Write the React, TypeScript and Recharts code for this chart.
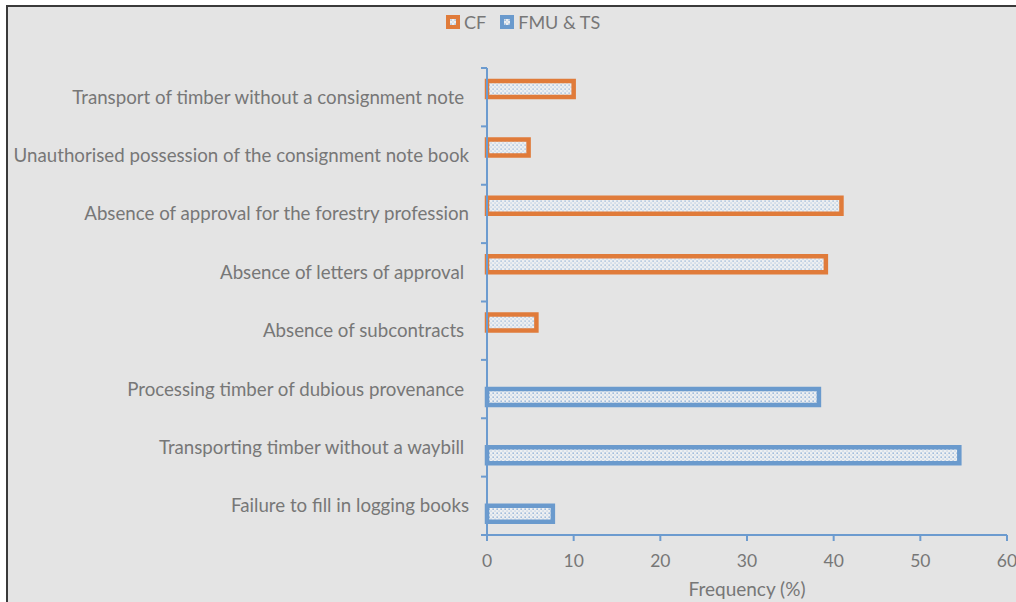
import React from 'react';
import { BarChart, Bar, XAxis, YAxis, Label } from 'recharts';

// Categories, top to bottom (some labels keep their trailing space)
const categories = [
  'Transport of timber without a consignment note ',
  'Unauthorised possession of the consignment note book',
  'Absence of approval for the forestry profession',
  'Absence of letters of approval ',
  'Absence of subcontracts ',
  'Processing timber of dubious provenance ',
  'Transporting timber without a waybill ',
  'Failure to fill in logging books',
];

// Frequency (%) per offence
const cfValues = [10.0, 4.8, 40.9, 39.1, 5.7, 0, 0, 0];
const fmuValues = [0, 0, 0, 0, 0, 38.3, 54.5, 7.6];

const xTicks = [0, 10, 20, 30, 40, 50, 60];

const ORANGE = '#E07B3A';
const BLUE = '#6A9ACD';
const AXIS = '#6C9BCF';
const TEXT = '#777777';
const BG = '#E4E4E4';
const FONT = 'Lato, "Noto Sans", sans-serif';

const data = categories.map((name, i) => ({ name, cf: cfValues[i], fmu: fmuValues[i] }));

// chart geometry
const CHART_W = 1040;
const CHART_H = 640;
const MARGIN = { top: 68, right: 33, bottom: 40, left: 7 };
const Y_AXIS_W = 480;
const X_AXIS_H = 65;
const PLOT_H = CHART_H - MARGIN.top - MARGIN.bottom - X_AXIS_H;
const BAND = PLOT_H / categories.length;

// category label + tick marks between categories
const CategoryTick = (props: any) => {
  const { y, payload, index } = props;
  const axisX = MARGIN.left + Y_AXIS_W;
  const top = y - BAND / 2;
  return (
    <g>
      <line x1={axisX - 6} x2={axisX} y1={top} y2={top} stroke={AXIS} strokeWidth={2} />
      {index === categories.length - 1 && (
        <line x1={axisX - 6} x2={axisX} y1={top + BAND} y2={top + BAND} stroke={AXIS} strokeWidth={2} />
      )}
      <text
        x={axisX - 18}
        y={y}
        dy="0.35em"
        textAnchor="end"
        xmlSpace="preserve"
        style={{ whiteSpace: 'pre' }}
        fill={TEXT}
        fontSize={18.7}
        fontFamily={FONT}
      >
        {payload.value}
      </text>
    </g>
  );
};

const LegendKey = ({ color, pattern }: { color: string; pattern: string }) => (
  <svg width={14} height={14} style={{ display: 'block' }}>
    <rect x={2} y={2} width={10} height={10} fill={`url(#${pattern})`} stroke={color} strokeWidth={4} />
  </svg>
);

export default function App() {
  return (
    <div
      style={{
        position: 'fixed',
        left: 0,
        top: 0,
        width: 1016,
        height: 602,
        overflow: 'hidden',
        background: '#ffffff',
        fontFamily: FONT,
      }}
    >
      <svg width={0} height={0} style={{ position: 'absolute' }}>
        <defs>
          <pattern id="dotsCf" width={4} height={4} patternUnits="userSpaceOnUse">
            <rect width={4} height={4} fill="#EDEFF1" />
            <rect x={0.5} y={0.5} width={1.2} height={1.2} fill="#86AAD4" />
            <rect x={2.5} y={2.5} width={1.1} height={1.1} fill="#A9C2DF" />
          </pattern>
          <pattern id="dotsFmu" width={4} height={4} patternUnits="userSpaceOnUse">
            <rect width={4} height={4} fill="#EDEFF1" />
            <rect x={0.5} y={0.5} width={1.3} height={1.3} fill="#79A2D2" />
            <rect x={2.5} y={2.5} width={1.1} height={1.1} fill="#A9C2DF" />
          </pattern>
        </defs>
      </svg>

      <div
        style={{
          position: 'absolute',
          left: 6,
          top: 5,
          width: 1100,
          height: 700,
          background: BG,
          borderTop: '2px solid #3a3a3a',
          borderLeft: '2px solid #3a3a3a',
        }}
      />

      <div
        style={{
          position: 'absolute',
          left: 446,
          top: 12,
          display: 'flex',
          alignItems: 'center',
          fontSize: 18,
          color: TEXT,
          lineHeight: '20px',
        }}
      >
        <LegendKey color={ORANGE} pattern="dotsCf" />
        <span style={{ marginLeft: 4, marginRight: 14 }}>CF</span>
        <LegendKey color={BLUE} pattern="dotsFmu" />
        <span style={{ marginLeft: 4 }}>FMU &amp; TS</span>
      </div>

      <div style={{ position: 'absolute', left: 0, top: 0 }}>
        <BarChart width={CHART_W} height={CHART_H} data={data} layout="vertical" margin={MARGIN} barGap={0}>
          <XAxis
            type="number"
            domain={[0, 60]}
            ticks={xTicks}
            interval={0}
            height={X_AXIS_H}
            axisLine={{ stroke: AXIS, strokeWidth: 2 }}
            tickLine={{ stroke: AXIS, strokeWidth: 2 }}
            tickSize={6}
            tickMargin={14}
            tick={{ fill: TEXT, fontSize: 17.5, fontFamily: FONT }}
          >
            <Label
              value="Frequency (%)"
              position="insideBottom"
              offset={4}
              fill={TEXT}
              fontSize={19}
              fontFamily={FONT}
            />
          </XAxis>
          <YAxis
            type="category"
            dataKey="name"
            width={Y_AXIS_W}
            axisLine={{ stroke: AXIS, strokeWidth: 2 }}
            tickLine={false}
            interval={0}
            tick={<CategoryTick />}
          />
          <Bar
            dataKey="cf"
            name="CF"
            fill="url(#dotsCf)"
            stroke={ORANGE}
            strokeWidth={4.5}
            barSize={16}
            isAnimationActive={false}
          />
          <Bar
            dataKey="fmu"
            name="FMU & TS"
            fill="url(#dotsFmu)"
            stroke={BLUE}
            strokeWidth={4.5}
            barSize={16}
            isAnimationActive={false}
          />
        </BarChart>
      </div>
    </div>
  );
}
